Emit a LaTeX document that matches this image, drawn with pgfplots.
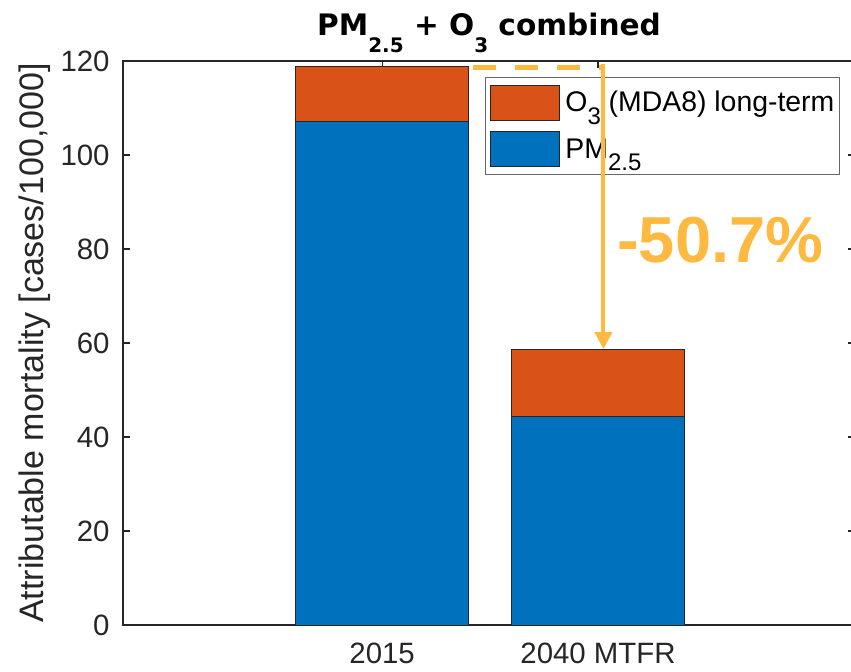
\documentclass[border=0pt]{standalone}
\usepackage{pgfplots}
\pgfplotsset{compat=1.18}
\usetikzlibrary{arrows.meta}
\usepackage{fontspec}
\setmainfont{Liberation Sans}
\newfontfamily\titlefont{DejaVu Sans}
\definecolor{mblue}{HTML}{0072BD}
\definecolor{morange}{HTML}{D95319}
\definecolor{annot}{RGB}{253,185,64}
\definecolor{axgray}{HTML}{262626}
\newcommand{\lsub}[1]{\raisebox{-6.3pt}{\fontsize{12}{12}\selectfont #1}}
\newcommand{\tsub}[1]{\raisebox{-8.5pt}{\fontsize{10}{10}\selectfont #1}}
\begin{document}
\begin{tikzpicture}[x=1pt,y=1pt]
\begin{axis}[
  scale only axis,
  width=366pt, height=282pt,
  xmin=-0.2, xmax=3.19,
  ymin=0, ymax=120,
  ytick={0,20,...,120},
  xtick={1,2},
  xticklabels={2015,2040 MTFR},
  tick align=inside,
  major tick length=3.5pt,
  axis line style={axgray, line width=0.6pt},
  tick style={axgray, line width=0.6pt},
  ticklabel style={font=\fontsize{14.7}{16}\selectfont, text=axgray},
  xticklabel style={anchor=base, inner sep=0pt, yshift=-19.5pt},
  yticklabel style={anchor=east, inner sep=0pt, xshift=-6.5pt},
  /pgf/number format/assume math mode=true,
  ylabel={Attributable mortality [cases/100,000]},
  ylabel style={at={([xshift=-39.5pt]axis description cs:0,0.5)}, anchor=base,
    font=\fontsize{17}{18}\selectfont, text=axgray},
  title={\titlefont\bfseries PM\tsub{2.5} + O\tsub{3} combined},
  title style={at={([yshift=6.5pt]axis description cs:0.5,1)}, anchor=base,
    font=\fontsize{14.8}{16}\selectfont},
  ybar stacked,
  bar width=0.8,
  legend style={at={(0.9795,0.9716)}, anchor=north east, draw=axgray!70, line width=0.6pt,
    font=\fontsize{14.2}{16}\selectfont, row sep=5.5pt, inner xsep=2pt, inner ysep=3.5pt,
    nodes={inner sep=0.5pt}, cells={anchor=west},
    /tikz/every even column/.append style={column sep=0pt}},
  legend cell align=left,
  reverse legend,
  legend image code/.code={\draw[#1, draw=black!85, line width=0.4pt] (0pt,-8.5pt) rectangle (34.5pt,9pt);},
]
\addplot[fill=mblue, draw=black!85, line width=0.4pt] coordinates {(1,107.2) (2,44.4)};
\addlegendentry{\,PM\lsub{2.5}}
\addplot[fill=morange, draw=black!85, line width=0.4pt] coordinates {(1,11.6) (2,14.2)};
\addlegendentry{\,O\lsub{3} (MDA8) long-term}
\draw[annot, line width=2.5pt, dash pattern=on 11.5pt off 9.5pt] (axis cs:1.42,118.7) -- (axis cs:2.03,118.7);
\coordinate (atop) at (axis cs:2.025,119.3);
\coordinate (abot) at (axis cs:2.025,58.7);
\coordinate (ll) at (rel axis cs:0,0);
\coordinate (ur) at (rel axis cs:1,1);
\node[anchor=base west, inner sep=0pt, text=annot, font=\fontsize{32.5}{34}\selectfont\bfseries] at (axis cs:2.0875,77.2) {-50.7\%};
\end{axis}
\draw[annot, line width=2pt, -{Triangle[width=8.5pt,length=8.5pt]}] (atop) -- (abot);
\pgfresetboundingbox
\path ([xshift=-61.5pt,yshift=-23.5pt]ll) rectangle ([xshift=-2pt,yshift=30.5pt]ur);
\end{tikzpicture}
\end{document}
